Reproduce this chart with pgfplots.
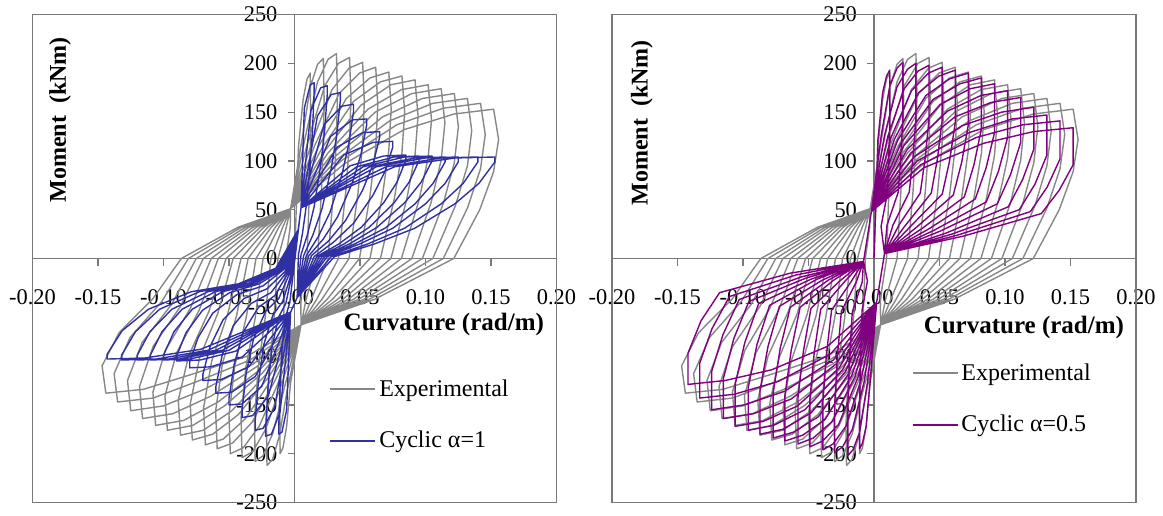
\documentclass[border=0pt]{standalone}
\usepackage{pgfplots}
\pgfplotsset{compat=1.18}
\usepackage{pgfplotstable}
\usepackage{fontspec}
\setmainfont{Liberation Serif}
\definecolor{expgray}{RGB}{135,135,135}
\definecolor{cycblue}{RGB}{48,48,165}
\definecolor{cycpurple}{RGB}{128,0,128}
\definecolor{frame}{RGB}{120,120,120}

\pgfplotstableread[row sep=\\]{
x y\\ 0 0\\
0.003 114\\ 0.0066 163\\ 0.0096 184\\ 0.012 190\\ 0.0123 152\\ 0.012 110\\ 0.0112 63\\ 0.0096 0\\ 0.0048 -42\\ 0.005 -68\\
-0.003 -127\\ -0.006 -172\\ -0.0088 -194\\ -0.011 -200\\ -0.0112 -160\\ -0.0102 -110\\ -0.0083 -60\\ -0.0066 0\\ -0.0033 32\\ -0.003 51\\
0.0055 120\\ 0.0121 176\\ 0.0176 199\\ 0.022 205\\ 0.0226 164\\ 0.022 119\\ 0.0205 68\\ 0.0176 0\\ 0.0088 -42\\ 0.005 -68\\
-0.0053 -133\\ -0.0116 -182\\ -0.0168 -206\\ -0.021 -212\\ -0.0214 -170\\ -0.0195 -117\\ -0.0158 -64\\ -0.0126 0\\ -0.0063 32\\ -0.003 51\\
0.008 123\\ 0.0176 181\\ 0.0256 204\\ 0.032 210\\ 0.0328 168\\ 0.032 122\\ 0.0298 69\\ 0.0256 0\\ 0.0128 -42\\ 0.005 -68\\
-0.0075 -131\\ -0.0165 -179\\ -0.024 -202\\ -0.030 -208\\ -0.0306 -166\\ -0.0279 -114\\ -0.0225 -62\\ -0.018 0\\ -0.009 32\\ -0.003 51\\
0.0105 121\\ 0.0231 177\\ 0.0336 200\\ 0.042 206\\ 0.0431 165\\ 0.042 119\\ 0.0391 68\\ 0.0336 0\\ 0.0168 -42\\ 0.005 -68\\
-0.010 -129\\ -0.022 -175\\ -0.032 -198\\ -0.040 -204\\ -0.0408 -163\\ -0.0372 -112\\ -0.030 -61\\ -0.024 0\\ -0.012 32\\ -0.003 51\\
0.013 118\\ 0.0286 173\\ 0.0416 195\\ 0.052 201\\ 0.0533 161\\ 0.052 117\\ 0.0484 66\\ 0.0416 0\\ 0.0208 -42\\ 0.005 -68\\
-0.0123 -127\\ -0.027 -172\\ -0.0392 -194\\ -0.049 -200\\ -0.050 -160\\ -0.0456 -110\\ -0.0368 -60\\ -0.0294 0\\ -0.0147 32\\ -0.003 51\\
0.0155 116\\ 0.0341 169\\ 0.0496 190\\ 0.062 196\\ 0.0636 157\\ 0.062 114\\ 0.0577 65\\ 0.0496 0\\ 0.0248 -42\\ 0.005 -68\\
-0.0148 -125\\ -0.0325 -168\\ -0.0472 -189\\ -0.059 -195\\ -0.0602 -156\\ -0.0549 -107\\ -0.0443 -59\\ -0.0354 0\\ -0.0177 32\\ -0.003 51\\
0.018 114\\ 0.0396 164\\ 0.0576 185\\ 0.072 191\\ 0.0738 153\\ 0.072 111\\ 0.067 63\\ 0.0576 0\\ 0.0288 -42\\ 0.005 -68\\
-0.017 -123\\ -0.0374 -164\\ -0.0544 -185\\ -0.068 -191\\ -0.0694 -153\\ -0.0632 -105\\ -0.051 -57\\ -0.0408 0\\ -0.0204 32\\ -0.003 51\\
0.0205 112\\ 0.0451 161\\ 0.0656 181\\ 0.082 187\\ 0.0841 150\\ 0.082 108\\ 0.0763 62\\ 0.0656 0\\ 0.0328 -42\\ 0.005 -68\\
-0.0195 -121\\ -0.0429 -160\\ -0.0624 -180\\ -0.078 -186\\ -0.0796 -149\\ -0.0725 -102\\ -0.0585 -56\\ -0.0468 0\\ -0.0234 32\\ -0.003 51\\
0.023 110\\ 0.0506 157\\ 0.0736 178\\ 0.092 183\\ 0.0943 146\\ 0.092 106\\ 0.0856 60\\ 0.0736 0\\ 0.0368 -42\\ 0.005 -68\\
-0.0218 -119\\ -0.0479 -156\\ -0.0696 -176\\ -0.087 -181\\ -0.0887 -145\\ -0.0809 -100\\ -0.0653 -54\\ -0.0522 0\\ -0.0261 32\\ -0.003 51\\
0.0255 108\\ 0.0561 153\\ 0.0816 173\\ 0.102 178\\ 0.1046 142\\ 0.102 103\\ 0.0949 59\\ 0.0816 0\\ 0.0408 -42\\ 0.005 -68\\
-0.0243 -117\\ -0.0534 -151\\ -0.0776 -171\\ -0.097 -176\\ -0.0989 -141\\ -0.0902 -97\\ -0.0728 -53\\ -0.0582 0\\ -0.0291 32\\ -0.003 51\\
0.028 106\\ 0.0616 150\\ 0.0896 169\\ 0.112 174\\ 0.1148 139\\ 0.112 101\\ 0.1042 57\\ 0.0896 0\\ 0.0448 -42\\ 0.005 -68\\
-0.0265 -114\\ -0.0583 -147\\ -0.0848 -166\\ -0.106 -171\\ -0.1081 -137\\ -0.0986 -94\\ -0.0795 -51\\ -0.0636 0\\ -0.0318 32\\ -0.003 51\\
0.0305 104\\ 0.0671 145\\ 0.0976 164\\ 0.122 169\\ 0.1251 135\\ 0.122 98\\ 0.1135 56\\ 0.0976 0\\ 0.0488 -42\\ 0.005 -68\\
-0.029 -111\\ -0.0638 -141\\ -0.0928 -159\\ -0.116 -164\\ -0.1183 -131\\ -0.1079 -90\\ -0.087 -49\\ -0.0696 0\\ -0.0348 32\\ -0.003 51\\
0.033 102\\ 0.0726 141\\ 0.1056 159\\ 0.132 164\\ 0.1353 131\\ 0.132 95\\ 0.1228 54\\ 0.1056 0\\ 0.0528 -42\\ 0.005 -68\\
-0.0313 -108\\ -0.0688 -134\\ -0.100 -151\\ -0.125 -156\\ -0.1275 -125\\ -0.1163 -86\\ -0.0938 -47\\ -0.075 0\\ -0.0375 32\\ -0.003 51\\
0.0355 100\\ 0.0781 137\\ 0.1136 154\\ 0.142 159\\ 0.1456 127\\ 0.142 92\\ 0.1321 52\\ 0.1136 0\\ 0.0568 -42\\ 0.005 -68\\
-0.0338 -104\\ -0.0743 -126\\ -0.108 -143\\ -0.135 -147\\ -0.1377 -118\\ -0.1256 -81\\ -0.1013 -44\\ -0.081 0\\ -0.0405 32\\ -0.003 51\\
0.038 97\\ 0.0836 132\\ 0.1216 148\\ 0.152 153\\ 0.1558 122\\ 0.152 89\\ 0.1414 50\\ 0.1216 0\\ 0.0608 -42\\ 0.005 -68\\
-0.036 -100\\ -0.0792 -119\\ -0.1152 -134\\ -0.144 -138\\ -0.1469 -110\\ -0.1339 -76\\ -0.108 -41\\ -0.0864 0\\ -0.0432 32\\ -0.003 51\\
}\expdata

\pgfplotstableread[row sep=\\]{
x y\\ 0 0\\
0.005 52\\ 0.0075 154\\ 0.012 178\\ 0.015 180\\ 0.015 171\\ 0.0138 133\\ 0.012 97\\ 0.009 54\\ 0.006 25\\ 0.003 4\\ 0.002 -40\\
-0.003 -55\\ -0.006 -155\\ -0.0096 -178\\ -0.012 -180\\ -0.012 -171\\ -0.011 -130\\ -0.0094 -90\\ -0.0066 -59\\ -0.0036 -45\\ -0.0012 -18\\ 0.003 30\\
0.005 52\\ 0.0125 152\\ 0.020 175\\ 0.025 177\\ 0.025 168\\ 0.023 131\\ 0.020 96\\ 0.015 53\\ 0.010 25\\ 0.005 4\\ 0.002 -40\\
-0.003 -55\\ -0.011 -157\\ -0.0176 -180\\ -0.022 -182\\ -0.022 -173\\ -0.0202 -131\\ -0.0172 -91\\ -0.0121 -60\\ -0.0066 -46\\ -0.0022 -18\\ 0.003 30\\
0.005 52\\ 0.0175 146\\ 0.028 168\\ 0.035 170\\ 0.035 162\\ 0.0322 126\\ 0.028 92\\ 0.021 51\\ 0.014 24\\ 0.007 3\\ 0.002 -40\\
-0.003 -55\\ -0.015 -152\\ -0.024 -174\\ -0.030 -176\\ -0.030 -167\\ -0.0276 -127\\ -0.0234 -88\\ -0.0165 -58\\ -0.009 -44\\ -0.003 -18\\ 0.003 30\\
0.005 52\\ 0.0225 137\\ 0.036 156\\ 0.045 158\\ 0.045 150\\ 0.0414 117\\ 0.036 85\\ 0.027 47\\ 0.018 22\\ 0.009 3\\ 0.002 -40\\
-0.003 -55\\ -0.020 -141\\ -0.032 -161\\ -0.040 -163\\ -0.040 -155\\ -0.0368 -117\\ -0.0312 -82\\ -0.022 -54\\ -0.012 -41\\ -0.004 -16\\ 0.003 30\\
0.005 52\\ 0.0275 125\\ 0.044 142\\ 0.055 143\\ 0.055 136\\ 0.0506 106\\ 0.044 77\\ 0.033 43\\ 0.022 20\\ 0.011 3\\ 0.002 -40\\
-0.003 -55\\ -0.025 -131\\ -0.040 -149\\ -0.050 -150\\ -0.050 -143\\ -0.046 -108\\ -0.039 -75\\ -0.0275 -50\\ -0.015 -38\\ -0.005 -15\\ 0.003 30\\
0.005 52\\ 0.0325 114\\ 0.052 129\\ 0.065 130\\ 0.065 124\\ 0.0598 96\\ 0.052 70\\ 0.039 39\\ 0.026 18\\ 0.013 3\\ 0.002 -40\\
-0.003 -55\\ -0.030 -121\\ -0.048 -137\\ -0.060 -138\\ -0.060 -131\\ -0.0552 -99\\ -0.0468 -69\\ -0.033 -46\\ -0.018 -35\\ -0.006 -14\\ 0.003 30\\
0.005 52\\ 0.0375 106\\ 0.060 119\\ 0.075 120\\ 0.075 114\\ 0.069 89\\ 0.060 65\\ 0.045 36\\ 0.030 17\\ 0.015 2\\ 0.002 -40\\
-0.003 -55\\ -0.035 -111\\ -0.056 -124\\ -0.070 -125\\ -0.070 -119\\ -0.0644 -90\\ -0.0546 -63\\ -0.0385 -41\\ -0.021 -31\\ -0.007 -13\\ 0.003 30\\
0.005 52\\ 0.0425 95\\ 0.068 105\\ 0.085 106\\ 0.085 101\\ 0.0782 78\\ 0.068 57\\ 0.051 32\\ 0.034 15\\ 0.017 2\\ 0.002 -40\\
-0.003 -55\\ -0.040 -101\\ -0.064 -111\\ -0.080 -112\\ -0.080 -106\\ -0.0736 -81\\ -0.0624 -56\\ -0.044 -37\\ -0.024 -28\\ -0.008 -11\\ 0.003 30\\
0.005 52\\ 0.0475 94\\ 0.076 104\\ 0.095 105\\ 0.095 100\\ 0.0874 78\\ 0.076 57\\ 0.057 32\\ 0.038 15\\ 0.019 2\\ 0.002 -40\\
-0.003 -55\\ -0.045 -95\\ -0.072 -104\\ -0.090 -105\\ -0.090 -100\\ -0.0828 -76\\ -0.0702 -53\\ -0.0495 -35\\ -0.027 -26\\ -0.009 -11\\ 0.003 30\\
0.005 52\\ 0.0525 94\\ 0.084 104\\ 0.105 105\\ 0.105 100\\ 0.0966 78\\ 0.084 57\\ 0.063 32\\ 0.042 15\\ 0.021 2\\ 0.002 -40\\
-0.003 -55\\ -0.050 -94\\ -0.080 -103\\ -0.100 -104\\ -0.100 -99\\ -0.092 -75\\ -0.078 -52\\ -0.055 -34\\ -0.030 -26\\ -0.010 -10\\ 0.003 30\\
0.005 52\\ 0.0575 94\\ 0.092 103\\ 0.115 104\\ 0.115 99\\ 0.1058 77\\ 0.092 56\\ 0.069 31\\ 0.046 15\\ 0.023 2\\ 0.002 -40\\
-0.003 -55\\ -0.055 -94\\ -0.088 -103\\ -0.110 -104\\ -0.110 -99\\ -0.1012 -75\\ -0.0858 -52\\ -0.0605 -34\\ -0.033 -26\\ -0.011 -10\\ 0.003 30\\
0.005 52\\ 0.0625 94\\ 0.100 103\\ 0.125 104\\ 0.125 99\\ 0.115 77\\ 0.100 56\\ 0.075 31\\ 0.050 15\\ 0.025 2\\ 0.002 -40\\
-0.003 -55\\ -0.060 -94\\ -0.096 -103\\ -0.120 -104\\ -0.120 -99\\ -0.1104 -75\\ -0.0936 -52\\ -0.066 -34\\ -0.036 -26\\ -0.012 -10\\ 0.003 30\\
0.005 52\\ 0.070 94\\ 0.112 103\\ 0.140 104\\ 0.140 99\\ 0.1288 77\\ 0.112 56\\ 0.084 31\\ 0.056 15\\ 0.028 2\\ 0.002 -40\\
-0.003 -55\\ -0.066 -94\\ -0.1056 -103\\ -0.132 -104\\ -0.132 -99\\ -0.1214 -75\\ -0.103 -52\\ -0.0726 -34\\ -0.0396 -26\\ -0.0132 -10\\ 0.003 30\\
0.005 52\\ 0.0765 94\\ 0.1224 103\\ 0.153 104\\ 0.153 99\\ 0.1408 77\\ 0.1224 56\\ 0.0918 31\\ 0.0612 15\\ 0.0306 2\\ 0.002 -40\\
-0.003 -55\\ -0.0715 -93\\ -0.1144 -102\\ -0.143 -103\\ -0.143 -98\\ -0.1316 -74\\ -0.1115 -52\\ -0.0787 -34\\ -0.0429 -26\\ -0.0143 -10\\ 0.003 30\\
}\bluedata

\pgfplotstableread[row sep=\\]{
x y\\ 0 0\\
0.003 122\\ 0.0066 170\\ 0.0096 187\\ 0.012 193\\ 0.012 139\\ 0.0112 100\\ 0.0101 66\\ 0.0054 33\\ 0.008 5\\ 0.002 -45\\
-0.0028 -124\\ -0.006 -172\\ -0.0088 -189\\ -0.011 -195\\ -0.011 -146\\ -0.0102 -98\\ -0.0091 -53\\ -0.005 -23\\ -0.008 -3\\ -0.002 48\\
0.0055 126\\ 0.0121 177\\ 0.0176 195\\ 0.022 201\\ 0.022 145\\ 0.0205 105\\ 0.0185 68\\ 0.0099 34\\ 0.008 5\\ 0.002 -45\\
-0.005 -127\\ -0.011 -178\\ -0.016 -196\\ -0.020 -202\\ -0.020 -152\\ -0.0186 -101\\ -0.0166 -55\\ -0.009 -24\\ -0.008 -3\\ -0.002 48\\
0.008 126\\ 0.0176 176\\ 0.0256 194\\ 0.032 200\\ 0.032 144\\ 0.0298 104\\ 0.0269 68\\ 0.0144 34\\ 0.008 5\\ 0.002 -45\\
-0.0075 -126\\ -0.0165 -175\\ -0.024 -193\\ -0.030 -199\\ -0.030 -149\\ -0.0279 -100\\ -0.0249 -54\\ -0.0135 -24\\ -0.008 -3\\ -0.002 48\\
0.0105 125\\ 0.0231 174\\ 0.0336 192\\ 0.042 198\\ 0.042 143\\ 0.0391 103\\ 0.0353 67\\ 0.0189 34\\ 0.008 5\\ 0.002 -45\\
-0.0098 -124\\ -0.0215 -172\\ -0.0312 -190\\ -0.039 -196\\ -0.039 -147\\ -0.0363 -98\\ -0.0324 -53\\ -0.0176 -24\\ -0.008 -3\\ -0.002 48\\
0.013 124\\ 0.0286 172\\ 0.0416 190\\ 0.052 196\\ 0.052 141\\ 0.0484 102\\ 0.0437 67\\ 0.0234 33\\ 0.008 5\\ 0.002 -45\\
-0.0123 -122\\ -0.027 -170\\ -0.0392 -187\\ -0.049 -193\\ -0.049 -145\\ -0.0456 -96\\ -0.0407 -52\\ -0.022 -23\\ -0.008 -3\\ -0.002 48\\
0.0155 122\\ 0.0341 170\\ 0.0496 187\\ 0.062 193\\ 0.062 139\\ 0.0577 100\\ 0.0521 66\\ 0.0279 33\\ 0.008 5\\ 0.002 -45\\
-0.0145 -121\\ -0.0319 -167\\ -0.0464 -184\\ -0.058 -190\\ -0.058 -142\\ -0.0539 -95\\ -0.0481 -51\\ -0.0261 -23\\ -0.008 -3\\ -0.002 48\\
0.018 121\\ 0.0396 167\\ 0.0576 184\\ 0.072 190\\ 0.072 137\\ 0.067 99\\ 0.0605 65\\ 0.0324 32\\ 0.008 5\\ 0.002 -45\\
-0.017 -120\\ -0.0374 -165\\ -0.0544 -181\\ -0.068 -187\\ -0.068 -140\\ -0.0632 -94\\ -0.0564 -50\\ -0.0306 -22\\ -0.008 -3\\ -0.002 48\\
0.0205 118\\ 0.0451 163\\ 0.0656 179\\ 0.082 185\\ 0.082 133\\ 0.0763 96\\ 0.0689 63\\ 0.0369 31\\ 0.008 5\\ 0.002 -45\\
-0.0193 -118\\ -0.0424 -162\\ -0.0616 -178\\ -0.077 -184\\ -0.077 -138\\ -0.0716 -92\\ -0.0639 -50\\ -0.0347 -22\\ -0.008 -3\\ -0.002 48\\
0.023 116\\ 0.0506 158\\ 0.0736 174\\ 0.092 179\\ 0.092 129\\ 0.0856 93\\ 0.0773 61\\ 0.0414 30\\ 0.008 5\\ 0.002 -45\\
-0.0218 -116\\ -0.0479 -158\\ -0.0696 -175\\ -0.087 -180\\ -0.087 -135\\ -0.0809 -90\\ -0.0722 -49\\ -0.0392 -22\\ -0.008 -3\\ -0.002 48\\
0.0255 112\\ 0.0561 151\\ 0.0816 167\\ 0.102 172\\ 0.102 124\\ 0.0949 89\\ 0.0857 58\\ 0.0459 29\\ 0.008 5\\ 0.002 -45\\
-0.024 -114\\ -0.0528 -155\\ -0.0768 -171\\ -0.096 -176\\ -0.096 -132\\ -0.0893 -88\\ -0.0797 -48\\ -0.0432 -21\\ -0.008 -3\\ -0.002 48\\
0.028 108\\ 0.0616 145\\ 0.0896 160\\ 0.112 165\\ 0.112 119\\ 0.1042 86\\ 0.0941 56\\ 0.0504 28\\ 0.008 5\\ 0.002 -45\\
-0.0265 -112\\ -0.0583 -151\\ -0.0848 -167\\ -0.106 -172\\ -0.106 -129\\ -0.0986 -86\\ -0.088 -46\\ -0.0477 -21\\ -0.008 -3\\ -0.002 48\\
0.0305 104\\ 0.0671 136\\ 0.0976 150\\ 0.122 155\\ 0.122 112\\ 0.1135 81\\ 0.1025 53\\ 0.0549 26\\ 0.008 5\\ 0.002 -45\\
-0.0288 -108\\ -0.0633 -144\\ -0.092 -159\\ -0.115 -164\\ -0.115 -123\\ -0.107 -82\\ -0.0955 -44\\ -0.0518 -20\\ -0.008 -3\\ -0.002 48\\
0.033 100\\ 0.0726 129\\ 0.1056 143\\ 0.132 147\\ 0.132 106\\ 0.1228 76\\ 0.1109 50\\ 0.0594 25\\ 0.008 5\\ 0.002 -45\\
-0.031 -104\\ -0.0682 -136\\ -0.0992 -150\\ -0.124 -155\\ -0.124 -116\\ -0.1153 -78\\ -0.1029 -42\\ -0.0558 -19\\ -0.008 -3\\ -0.002 48\\
0.0355 96\\ 0.0781 124\\ 0.1136 137\\ 0.142 141\\ 0.142 102\\ 0.1321 73\\ 0.1193 48\\ 0.0639 24\\ 0.008 5\\ 0.002 -45\\
-0.0333 -98\\ -0.0732 -126\\ -0.1064 -139\\ -0.133 -143\\ -0.133 -107\\ -0.1237 -72\\ -0.1104 -39\\ -0.0599 -17\\ -0.008 -3\\ -0.002 48\\
0.038 93\\ 0.0836 118\\ 0.1216 130\\ 0.152 134\\ 0.152 96\\ 0.1414 70\\ 0.1277 46\\ 0.0684 23\\ 0.008 5\\ 0.002 -45\\
-0.0355 -90\\ -0.0781 -114\\ -0.1136 -125\\ -0.142 -129\\ -0.142 -97\\ -0.1321 -64\\ -0.1179 -35\\ -0.0639 -15\\ -0.008 -3\\ -0.002 48\\
}\purpledata

\pgfplotsset{
  hyst/.style={
    scale only axis, width=262pt, height=244pt,
    xmin=-0.2, xmax=0.2, ymin=-250, ymax=250,
    axis lines=middle,
    axis line style={-, draw=frame, line width=0.6pt},
    inner axis line style={-},
    hide obscured x ticks=false, hide obscured y ticks=false,
    xtick={-0.2,-0.15,-0.1,-0.05,0,0.05,0.1,0.15,0.2},
    ytick={-250,-200,-150,-100,-50,0,50,100,150,200,250},
    tick align=outside, major tick length=3.5pt,
    tick style={draw=frame, line width=0.6pt},
    /pgf/number format/assume math mode=true,
    tick label style={font=\fontsize{11.2}{13}\selectfont, text=black},
    xticklabel style={/pgf/number format/.cd, fixed, fixed zerofill, precision=2, /tikz/.cd, yshift=-8.5pt},
    yticklabel style={xshift=-1.5pt},
    legend style={draw=none, fill=none, font=\fontsize{12}{14}\selectfont, row sep=13pt, inner sep=0pt, nodes={inner sep=1.5pt}},
    legend cell align=left,
    legend image code/.code={\draw[#1, line width=0.9pt] (0pt,0pt) -- (22.5pt,0pt);},
    every axis plot/.append style={line width=0.7pt, line join=round},
    after end axis/.code={\draw[frame, line width=0.6pt] (rel axis cs:0,0) rectangle (rel axis cs:1,1);},
  }
}

\begin{document}
\begin{tikzpicture}
\useasboundingbox (0,0) rectangle (581.5pt,257.5pt);
\begin{axis}[hyst, at={(16.25pt,6.25pt)}, anchor=south west,
  legend style={at={(rel axis cs:0.566,0.259)}, anchor=north west}]
\addplot[expgray] table {\expdata};
\addplot[cycblue] table {\bluedata};
\legend{Experimental, Cyclic α=1}
\node[rotate=90, font=\fontsize{12}{14}\bfseries\selectfont] at (rel axis cs:0.0525,0.784) {Moment\ \ (kNm)};
\node[font=\fontsize{12.5}{14}\bfseries\selectfont] at (rel axis cs:0.785,0.364) {Curvature (rad/m)};
\end{axis}
\begin{axis}[hyst, at={(306pt,6.25pt)}, anchor=south west,
  legend style={at={(rel axis cs:0.571,0.292)}, anchor=north west}]
\addplot[expgray] table {\expdata};
\addplot[cycpurple] table {\purpledata};
\legend{Experimental, Cyclic α=0.5}
\node[rotate=90, font=\fontsize{12}{14}\bfseries\selectfont] at (rel axis cs:0.057,0.778) {Moment\ \ (kNm)};
\node[font=\fontsize{12.5}{14}\bfseries\selectfont] at (rel axis cs:0.786,0.358) {Curvature (rad/m)};
\end{axis}
\end{tikzpicture}
\end{document}
